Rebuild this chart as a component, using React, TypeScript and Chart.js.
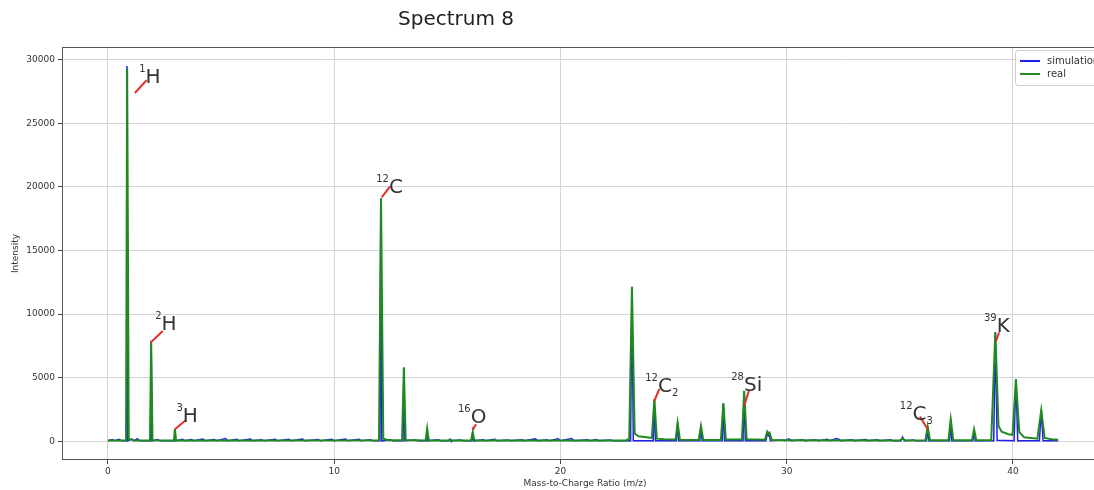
import React, { useEffect, useRef } from 'react';
import { Chart, registerables } from 'chart.js';

Chart.register(...registerables);

// ---- data ----
const seriesNames = ['simulation', 'real'];
const seriesColors = ['#1f1fe8', '#1f8a1f'];

const simMz = [
  0.0, 0.2, 0.3, 0.5, 0.6, 0.8, 0.84, 0.88, 1.05, 1.15, 1.3, 1.4, 1.88, 1.91, 1.95, 2.2, 2.3,
  2.93, 2.96, 2.99, 3.3, 3.4, 3.7, 3.8, 4.2, 4.3, 4.7, 4.8, 5.2, 5.3, 5.7, 5.8, 6.3, 6.4, 6.8, 6.9,
  7.4, 7.5, 8.0, 8.1, 8.6, 8.7, 9.3, 9.4, 9.9, 10.0, 10.5, 10.6, 11.1, 11.2, 11.6, 11.7,
  12.02, 12.06, 12.1, 12.5, 12.6, 13.04, 13.08, 13.12, 13.6, 13.7, 14.07, 14.1, 14.13, 14.6, 14.7,
  15.08, 15.12, 15.16, 15.6, 15.7, 16.08, 16.12, 16.16, 16.6, 16.7, 17.1, 17.2, 17.7, 17.8,
  18.3, 18.4, 18.9, 19.0, 19.4, 19.5, 19.9, 20.0, 20.5, 20.6, 21.2, 21.3, 21.6, 21.7, 22.2, 22.3,
  23.1, 23.16, 23.22, 24.1, 24.15, 24.2, 25.13, 25.18, 25.23, 26.16, 26.21, 26.26,
  27.15, 27.2, 27.25, 28.07, 28.12, 28.17, 29.08, 29.14, 29.18, 29.22, 29.28, 29.8, 29.9,
  30.1, 30.2, 30.7, 30.8, 31.3, 31.4, 31.8, 31.9, 32.2, 32.3, 32.4, 32.9, 33.0, 33.5, 33.6,
  34.0, 34.1, 34.6, 34.7, 35.05, 35.12, 35.2, 35.6, 35.7, 36.18, 36.23, 36.28, 37.2, 37.25, 37.3,
  38.23, 38.28, 38.33, 39.15, 39.22, 39.3, 40.05, 40.13, 40.21, 41.17, 41.25, 41.33, 42.0,
];
const simIntensity = [
  30, 120, 30, 150, 30, 30, 29500, 30, 180, 30, 200, 30, 30, 7900, 30, 120, 30,
  30, 950, 30, 150, 30, 120, 30, 160, 30, 130, 30, 200, 30, 140, 30, 170, 30, 120, 30,
  150, 30, 140, 30, 160, 30, 130, 30, 150, 30, 170, 30, 140, 30, 120, 30,
  30, 19100, 30, 120, 30, 30, 5800, 30, 100, 30, 30, 1000, 30, 110, 30,
  30, 150, 30, 100, 30, 30, 700, 30, 120, 30, 150, 30, 100, 30,
  110, 30, 180, 30, 120, 30, 190, 30, 200, 30, 110, 30, 120, 30, 100, 30,
  30, 12100, 30, 30, 3300, 30, 30, 1450, 30, 30, 1200, 30,
  30, 2980, 30, 30, 3950, 30, 30, 600, 450, 620, 30, 100, 30,
  180, 30, 110, 30, 120, 30, 150, 30, 200, 150, 30, 110, 30, 130, 30,
  110, 30, 120, 30, 30, 330, 30, 100, 30, 30, 1140, 30, 30, 1720, 30,
  30, 940, 30, 30, 8560, 80, 30, 4870, 30, 30, 2450, 30, 30,
];

const realMz = [
  0.0, 0.8, 0.85, 0.92, 1.2, 1.86, 1.91, 1.97, 2.92, 2.96, 3.01, 6.0,
  11.98, 12.07, 12.17, 12.4, 13.0, 13.08, 13.16, 14.04, 14.11, 14.18, 15.06, 15.1, 15.14,
  16.05, 16.12, 16.2, 17.06, 17.1, 17.14, 22.9, 23.04, 23.16, 23.28, 23.45, 23.8,
  24.04, 24.15, 24.26, 24.6, 25.09, 25.18, 25.28, 26.11, 26.21, 26.31, 27.09, 27.2, 27.31,
  28.02, 28.12, 28.23, 29.04, 29.14, 29.2, 29.24, 29.34, 30.0, 35.0, 35.12, 35.25,
  36.13, 36.23, 36.33, 37.15, 37.25, 37.36, 38.19, 38.28, 38.38, 39.04, 39.22, 39.36, 39.5,
  39.8, 39.98, 40.13, 40.28, 40.5, 41.08, 41.25, 41.4, 41.7, 42.0,
];
const realIntensity = [
  50, 50, 29300, 150, 60, 60, 7850, 80, 60, 950, 60, 50,
  80, 19100, 200, 80, 80, 5800, 100, 60, 1000, 60, 60, 130, 60,
  60, 700, 60, 60, 110, 60, 60, 200, 12150, 600, 380, 300,
  250, 3300, 200, 150, 130, 1450, 120, 100, 1200, 100, 100, 2980, 130,
  130, 3970, 150, 120, 750, 600, 650, 100, 80, 60, 200, 60,
  70, 1140, 80, 80, 1720, 80, 80, 940, 80, 100, 8560, 1200, 750,
  550, 500, 4870, 700, 300, 200, 2450, 250, 150, 120,
];

const xTickValues = [0, 10, 20, 30, 40];
const yTickValues = [0, 5000, 10000, 15000, 20000, 25000, 30000];

// peak labels
const peakElements = ['H', 'H', 'H', 'C', 'O', 'C', 'Si', 'C', 'K'];
const peakMasses = ['1', '2', '3', '12', '16', '12', '28', '12', '39'];
const peakSubscripts = ['', '', '', '', '', '2', '', '3', ''];
const leaderFromMz = [1.19, 1.89, 2.96, 12.1, 16.12, 24.15, 28.12, 36.23, 39.24];
const leaderFromIntensity = [27380, 7750, 940, 19180, 880, 3160, 2770, 940, 7830];
const leaderToMz = [1.71, 2.42, 3.45, 12.46, 16.27, 24.37, 28.33, 35.89, 39.39];
const leaderToIntensity = [28400, 8670, 1670, 20020, 1330, 4110, 3970, 1930, 8560];
const labelMz = [1.66, 2.37, 3.31, 12.42, 16.03, 24.31, 28.11, 35.56, 39.28];
const labelIntensity = [28180, 8750, 1510, 19530, 1430, 3870, 3970, 1670, 8610];

// ---- layout constants ----
const X_MIN = -2.03;
const X_MAX = 44.2;
const Y_MIN = -1480;
const Y_MAX = 31000;
const FONT = 'DejaVu Sans';

const decorPlugin = {
  id: 'decor',
  afterDatasetsDraw(chart: any) {
    const { ctx, chartArea: a, scales } = chart;
    const x = scales.x;
    const y = scales.y;
    ctx.save();
    // leader lines + labels
    for (let i = 0; i < peakElements.length; i++) {
      ctx.strokeStyle = '#e0302a';
      ctx.lineWidth = 2;
      ctx.beginPath();
      ctx.moveTo(x.getPixelForValue(leaderFromMz[i]), y.getPixelForValue(leaderFromIntensity[i]));
      ctx.lineTo(x.getPixelForValue(leaderToMz[i]), y.getPixelForValue(leaderToIntensity[i]));
      ctx.stroke();
      const tx = x.getPixelForValue(labelMz[i]);
      const ty = y.getPixelForValue(labelIntensity[i]);
      ctx.fillStyle = '#333';
      ctx.textBaseline = 'alphabetic';
      ctx.font = `20px "${FONT}"`;
      ctx.textAlign = 'left';
      ctx.fillText(peakElements[i], tx, ty);
      const w = ctx.measureText(peakElements[i]).width;
      ctx.font = `10px "${FONT}"`;
      ctx.textAlign = 'right';
      ctx.fillText(peakMasses[i], tx, ty - 11);
      if (peakSubscripts[i]) {
        ctx.textAlign = 'left';
        ctx.fillText(peakSubscripts[i], tx + w, ty + 4);
      }
    }
    // spines
    ctx.strokeStyle = '#555';
    ctx.lineWidth = 1;
    ctx.strokeRect(Math.round(a.left) + 0.5, Math.round(a.top) + 0.5, Math.round(a.right - a.left) - 1, Math.round(a.bottom - a.top) - 1);
    // legend
    const lx = 1015;
    const ly = 50;
    const lw = 92;
    const lh = 35;
    ctx.beginPath();
    ctx.roundRect(lx + 0.5, ly + 0.5, lw, lh, 3);
    ctx.fillStyle = 'rgba(255,255,255,0.85)';
    ctx.fill();
    ctx.strokeStyle = '#cfcfcf';
    ctx.stroke();
    ctx.font = `10px "${FONT}"`;
    ctx.textAlign = 'left';
    ctx.textBaseline = 'middle';
    seriesNames.forEach((name, i) => {
      const yy = ly + 11 + i * 13;
      ctx.strokeStyle = seriesColors[i];
      ctx.lineWidth = 2;
      ctx.beginPath();
      ctx.moveTo(lx + 5, yy);
      ctx.lineTo(lx + 25, yy);
      ctx.stroke();
      ctx.fillStyle = '#333';
      ctx.fillText(name, lx + 32, yy);
    });
    // title
    ctx.font = `20px "${FONT}"`;
    ctx.fillStyle = '#222';
    ctx.textAlign = 'center';
    ctx.textBaseline = 'alphabetic';
    ctx.fillText('Spectrum 8', 456, 25);
    ctx.restore();
  },
};

export default function App() {
  const ref = useRef<HTMLCanvasElement>(null);
  useEffect(() => {
    const canvas = ref.current;
    if (!canvas) return;
    const tickFont = { family: FONT, size: 9 };
    const chart = new Chart(canvas, {
      type: 'line',
      data: {
        datasets: [
          {
            label: seriesNames[0],
            data: simMz.map((m, i) => ({ x: m, y: simIntensity[i] })),
            borderColor: seriesColors[0],
            borderWidth: 1.5,
            pointRadius: 0,
            tension: 0,
            fill: false,
            order: 1,
          },
          {
            label: seriesNames[1],
            data: realMz.map((m, i) => ({ x: m, y: realIntensity[i] })),
            borderColor: seriesColors[1],
            borderWidth: 2,
            pointRadius: 0,
            tension: 0,
            fill: false,
            order: 0,
          },
        ],
      },
      options: {
        animation: false,
        responsive: false,
        devicePixelRatio: 1,
        layout: { padding: { left: 0, top: 47, right: 52, bottom: 0 } },
        plugins: { legend: { display: false }, tooltip: { enabled: false }, title: { display: false } },
        scales: {
          x: {
            type: 'linear',
            min: X_MIN,
            max: X_MAX,
            afterBuildTicks: (s: any) => {
              s.ticks = xTickValues.map((v) => ({ value: v }));
            },
            afterFit: (s: any) => {
              s.height = 30;
            },
            ticks: { font: tickFont, color: '#333', padding: 2, maxRotation: 0, autoSkip: false, callback: (v: any) => String(v) },
            grid: { color: '#d4d4d4', lineWidth: 1, tickLength: 4, tickColor: '#444' },
            border: { display: false },
            title: { display: true, text: 'Mass-to-Charge Ratio (m/z)', font: tickFont, color: '#333', padding: { top: 0, bottom: 1 } },
          },
          y: {
            type: 'linear',
            min: Y_MIN,
            max: Y_MAX,
            afterBuildTicks: (s: any) => {
              s.ticks = yTickValues.map((v) => ({ value: v }));
            },
            afterFit: (s: any) => {
              s.width = 62;
            },
            ticks: { font: tickFont, color: '#333', padding: 3, autoSkip: false, callback: (v: any) => String(v) },
            grid: { color: '#d4d4d4', lineWidth: 1, tickLength: 4, tickColor: '#444' },
            border: { display: false },
            title: { display: true, text: 'Intensity', font: tickFont, color: '#333', padding: { top: 10, bottom: 0 } },
          },
        },
      },
      plugins: [decorPlugin],
    } as any);
    return () => chart.destroy();
  }, []);
  return (
    <div style={{ position: 'fixed', left: 0, top: 0, width: 1094, height: 490, overflow: 'hidden', background: '#fff' }}>
      <canvas ref={ref} width={1160} height={490} style={{ display: 'block', width: 1160, height: 490 }} />
    </div>
  );
}
